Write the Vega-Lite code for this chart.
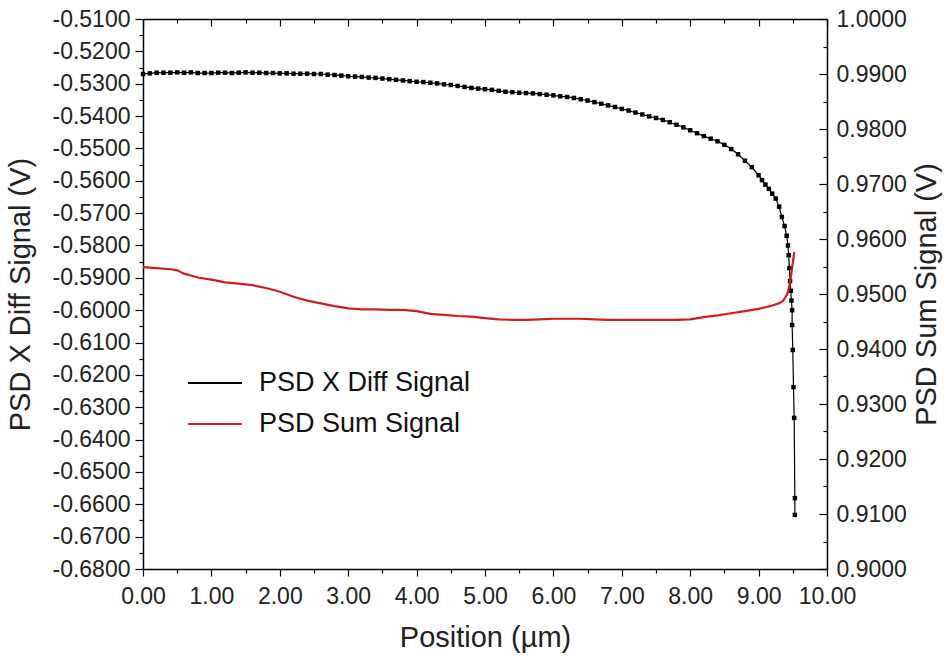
{
  "$schema": "https://vega.github.io/schema/vega-lite/v6.json",
  "width": 684,
  "height": 550,
  "autosize": {"type": "none"},
  "padding": {"left": 143, "top": 19, "right": 119, "bottom": 89},
  "background": "white",
  "config": {
    "view": {"stroke": null},
    "font": "Liberation Sans",
    "axis": {
      "grid": false,
      "domainColor": "#000",
      "domainWidth": 1.5,
      "tickColor": "#000",
      "tickWidth": 1.2,
      "labelColor": "#222",
      "titleColor": "#222",
      "labelFont": "Liberation Sans",
      "titleFont": "Liberation Sans",
      "titleFontWeight": "normal",
      "labelFontSize": 23,
      "titleFontSize": 29
    },
    "legend": {"labelFont": "Liberation Sans"}
  },
  "datasets": {
    "diff": [
      {"i": 0, "pos": 0.0, "v": -0.5270}, {"i": 1, "pos": 0.1, "v": -0.5268}, {"i": 2, "pos": 0.2, "v": -0.5266},
      {"i": 3, "pos": 0.3, "v": -0.5266}, {"i": 4, "pos": 0.4, "v": -0.5266}, {"i": 5, "pos": 0.5, "v": -0.5265},
      {"i": 6, "pos": 0.6, "v": -0.5266}, {"i": 7, "pos": 0.7, "v": -0.5265}, {"i": 8, "pos": 0.8, "v": -0.5267},
      {"i": 9, "pos": 0.9, "v": -0.5267}, {"i": 10, "pos": 1.0, "v": -0.5267}, {"i": 11, "pos": 1.1, "v": -0.5266},
      {"i": 12, "pos": 1.2, "v": -0.5266}, {"i": 13, "pos": 1.3, "v": -0.5267}, {"i": 14, "pos": 1.4, "v": -0.5266},
      {"i": 15, "pos": 1.5, "v": -0.5265}, {"i": 16, "pos": 1.6, "v": -0.5266}, {"i": 17, "pos": 1.7, "v": -0.5266},
      {"i": 18, "pos": 1.8, "v": -0.5267}, {"i": 19, "pos": 1.9, "v": -0.5267}, {"i": 20, "pos": 2.0, "v": -0.5268},
      {"i": 21, "pos": 2.1, "v": -0.5268}, {"i": 22, "pos": 2.2, "v": -0.5269}, {"i": 23, "pos": 2.3, "v": -0.5269},
      {"i": 24, "pos": 2.4, "v": -0.5269}, {"i": 25, "pos": 2.5, "v": -0.5270}, {"i": 26, "pos": 2.6, "v": -0.5270},
      {"i": 27, "pos": 2.7, "v": -0.5272}, {"i": 28, "pos": 2.8, "v": -0.5273}, {"i": 29, "pos": 2.9, "v": -0.5275},
      {"i": 30, "pos": 3.0, "v": -0.5277}, {"i": 31, "pos": 3.1, "v": -0.5278}, {"i": 32, "pos": 3.2, "v": -0.5279},
      {"i": 33, "pos": 3.3, "v": -0.5281}, {"i": 34, "pos": 3.4, "v": -0.5282}, {"i": 35, "pos": 3.5, "v": -0.5284},
      {"i": 36, "pos": 3.6, "v": -0.5286}, {"i": 37, "pos": 3.7, "v": -0.5288}, {"i": 38, "pos": 3.8, "v": -0.5290},
      {"i": 39, "pos": 3.9, "v": -0.5292}, {"i": 40, "pos": 4.0, "v": -0.5294}, {"i": 41, "pos": 4.1, "v": -0.5295},
      {"i": 42, "pos": 4.2, "v": -0.5297}, {"i": 43, "pos": 4.3, "v": -0.5299}, {"i": 44, "pos": 4.4, "v": -0.5302},
      {"i": 45, "pos": 4.5, "v": -0.5304}, {"i": 46, "pos": 4.6, "v": -0.5307}, {"i": 47, "pos": 4.7, "v": -0.5310},
      {"i": 48, "pos": 4.8, "v": -0.5313}, {"i": 49, "pos": 4.9, "v": -0.5315}, {"i": 50, "pos": 5.0, "v": -0.5317},
      {"i": 51, "pos": 5.1, "v": -0.5319}, {"i": 52, "pos": 5.2, "v": -0.5322}, {"i": 53, "pos": 5.3, "v": -0.5325},
      {"i": 54, "pos": 5.4, "v": -0.5326}, {"i": 55, "pos": 5.5, "v": -0.5328}, {"i": 56, "pos": 5.6, "v": -0.5329},
      {"i": 57, "pos": 5.7, "v": -0.5330}, {"i": 58, "pos": 5.8, "v": -0.5332}, {"i": 59, "pos": 5.9, "v": -0.5334},
      {"i": 60, "pos": 6.0, "v": -0.5336}, {"i": 61, "pos": 6.1, "v": -0.5339}, {"i": 62, "pos": 6.2, "v": -0.5341},
      {"i": 63, "pos": 6.3, "v": -0.5344}, {"i": 64, "pos": 6.4, "v": -0.5348}, {"i": 65, "pos": 6.5, "v": -0.5352},
      {"i": 66, "pos": 6.6, "v": -0.5357}, {"i": 67, "pos": 6.7, "v": -0.5362}, {"i": 68, "pos": 6.8, "v": -0.5367},
      {"i": 69, "pos": 6.9, "v": -0.5372}, {"i": 70, "pos": 7.0, "v": -0.5378}, {"i": 71, "pos": 7.1, "v": -0.5383},
      {"i": 72, "pos": 7.2, "v": -0.5389}, {"i": 73, "pos": 7.3, "v": -0.5395}, {"i": 74, "pos": 7.4, "v": -0.5401},
      {"i": 75, "pos": 7.5, "v": -0.5406}, {"i": 76, "pos": 7.6, "v": -0.5412}, {"i": 77, "pos": 7.7, "v": -0.5419},
      {"i": 78, "pos": 7.8, "v": -0.5427}, {"i": 79, "pos": 7.9, "v": -0.5435}, {"i": 80, "pos": 8.0, "v": -0.5444},
      {"i": 81, "pos": 8.1, "v": -0.5453}, {"i": 82, "pos": 8.2, "v": -0.5462}, {"i": 83, "pos": 8.3, "v": -0.5470},
      {"i": 84, "pos": 8.4, "v": -0.5478}, {"i": 85, "pos": 8.5, "v": -0.5489}, {"i": 86, "pos": 8.6, "v": -0.5502},
      {"i": 87, "pos": 8.7, "v": -0.5518}, {"i": 88, "pos": 8.8, "v": -0.5538}, {"i": 89, "pos": 8.9, "v": -0.5558},
      {"i": 90, "pos": 9.0, "v": -0.5583}, {"i": 91, "pos": 9.05, "v": -0.5598}, {"i": 92, "pos": 9.1, "v": -0.5612},
      {"i": 93, "pos": 9.15, "v": -0.5625}, {"i": 94, "pos": 9.2, "v": -0.5640}, {"i": 95, "pos": 9.25, "v": -0.5655},
      {"i": 96, "pos": 9.3, "v": -0.5680}, {"i": 97, "pos": 9.34, "v": -0.5712}, {"i": 98, "pos": 9.38, "v": -0.5740},
      {"i": 99, "pos": 9.41, "v": -0.5770}, {"i": 100, "pos": 9.43, "v": -0.5800}, {"i": 101, "pos": 9.44, "v": -0.5830},
      {"i": 102, "pos": 9.45, "v": -0.5870}, {"i": 103, "pos": 9.46, "v": -0.5910}, {"i": 104, "pos": 9.47, "v": -0.5940},
      {"i": 105, "pos": 9.48, "v": -0.5970}, {"i": 106, "pos": 9.49, "v": -0.6000}, {"i": 107, "pos": 9.49, "v": -0.6046},
      {"i": 108, "pos": 9.50, "v": -0.6123}, {"i": 109, "pos": 9.51, "v": -0.6238}, {"i": 110, "pos": 9.52, "v": -0.6333},
      {"i": 111, "pos": 9.53, "v": -0.6581}, {"i": 112, "pos": 9.53, "v": -0.6633}
    ],
    "sum": [
      {"i": 0, "pos": 0.0, "v": 0.9549}, {"i": 1, "pos": 0.2, "v": 0.9547}, {"i": 2, "pos": 0.4, "v": 0.9545},
      {"i": 3, "pos": 0.5, "v": 0.9543}, {"i": 4, "pos": 0.6, "v": 0.9537}, {"i": 5, "pos": 0.8, "v": 0.9530},
      {"i": 6, "pos": 1.0, "v": 0.9526}, {"i": 7, "pos": 1.2, "v": 0.9521}, {"i": 8, "pos": 1.4, "v": 0.9519},
      {"i": 9, "pos": 1.6, "v": 0.9516}, {"i": 10, "pos": 1.8, "v": 0.9511}, {"i": 11, "pos": 2.0, "v": 0.9504},
      {"i": 12, "pos": 2.2, "v": 0.9495}, {"i": 13, "pos": 2.4, "v": 0.9488}, {"i": 14, "pos": 2.6, "v": 0.9483},
      {"i": 15, "pos": 2.8, "v": 0.9478}, {"i": 16, "pos": 3.0, "v": 0.9474}, {"i": 17, "pos": 3.2, "v": 0.9472},
      {"i": 18, "pos": 3.4, "v": 0.9472}, {"i": 19, "pos": 3.6, "v": 0.9471}, {"i": 20, "pos": 3.8, "v": 0.9471},
      {"i": 21, "pos": 4.0, "v": 0.9469}, {"i": 22, "pos": 4.2, "v": 0.9464}, {"i": 23, "pos": 4.4, "v": 0.9462},
      {"i": 24, "pos": 4.6, "v": 0.9460}, {"i": 25, "pos": 4.8, "v": 0.9459}, {"i": 26, "pos": 5.0, "v": 0.9456},
      {"i": 27, "pos": 5.2, "v": 0.9454}, {"i": 28, "pos": 5.4, "v": 0.9453}, {"i": 29, "pos": 5.6, "v": 0.9453},
      {"i": 30, "pos": 5.8, "v": 0.9454}, {"i": 31, "pos": 6.0, "v": 0.9455}, {"i": 32, "pos": 6.2, "v": 0.9455},
      {"i": 33, "pos": 6.4, "v": 0.9455}, {"i": 34, "pos": 6.6, "v": 0.9454}, {"i": 35, "pos": 6.8, "v": 0.9453},
      {"i": 36, "pos": 7.0, "v": 0.9453}, {"i": 37, "pos": 7.2, "v": 0.9453}, {"i": 38, "pos": 7.4, "v": 0.9453},
      {"i": 39, "pos": 7.6, "v": 0.9453}, {"i": 40, "pos": 7.8, "v": 0.9453}, {"i": 41, "pos": 8.0, "v": 0.9454},
      {"i": 42, "pos": 8.2, "v": 0.9458}, {"i": 43, "pos": 8.4, "v": 0.9461}, {"i": 44, "pos": 8.6, "v": 0.9465},
      {"i": 45, "pos": 8.8, "v": 0.9469}, {"i": 46, "pos": 9.0, "v": 0.9473}, {"i": 47, "pos": 9.1, "v": 0.9476},
      {"i": 48, "pos": 9.2, "v": 0.9479}, {"i": 49, "pos": 9.3, "v": 0.9483}, {"i": 50, "pos": 9.36, "v": 0.9488},
      {"i": 51, "pos": 9.42, "v": 0.9500}, {"i": 52, "pos": 9.45, "v": 0.9515}, {"i": 53, "pos": 9.47, "v": 0.9530},
      {"i": 54, "pos": 9.49, "v": 0.9548}, {"i": 55, "pos": 9.51, "v": 0.9565}, {"i": 56, "pos": 9.52, "v": 0.9576}
    ]
  },
  "layer": [
    {
      "data": {"name": "diff"},
      "mark": {"type": "line", "strokeWidth": 1.2, "point": {"shape": "square", "size": 20, "filled": true}},
      "encoding": {
        "x": {
          "field": "pos", "type": "quantitative",
          "scale": {"domain": [0, 10], "nice": false, "zero": false},
          "axis": {
            "orient": "bottom", "title": "Position (µm)",
            "values": [0, 0.5, 1, 1.5, 2, 2.5, 3, 3.5, 4, 4.5, 5, 5.5, 6, 6.5, 7, 7.5, 8, 8.5, 9, 9.5, 10],
            "format": ".2f",
            "labelExpr": "round(datum.value*2) % 2 == 1 ? '' : datum.label",
            "tickSize": {"condition": {"test": "round(datum.value*2) % 2 == 1", "value": 4}, "value": 7},
            "labelPadding": 9, "titlePadding": 15, "labelFlush": false
          }
        },
        "y": {
          "field": "v", "type": "quantitative",
          "scale": {"domain": [-0.68, -0.51], "nice": false, "zero": false},
          "axis": {
            "orient": "left", "title": "PSD X Diff Signal (V)",
            "values": [-0.68, -0.675, -0.67, -0.665, -0.66, -0.655, -0.65, -0.645, -0.64, -0.635, -0.63, -0.625, -0.62, -0.615, -0.61, -0.605, -0.6, -0.595, -0.59, -0.585, -0.58, -0.575, -0.57, -0.565, -0.56, -0.555, -0.55, -0.545, -0.54, -0.535, -0.53, -0.525, -0.52, -0.515, -0.51],
            "format": ".4f",
            "labelExpr": "abs(round(datum.value*200)) % 2 == 1 ? '' : replace(datum.label, '\u2212', '-')",
            "tickSize": {"condition": {"test": "abs(round(datum.value*200)) % 2 == 1", "value": 4}, "value": 8},
            "labelPadding": 5, "titlePadding": 16, "labelFlush": false
          }
        },
        "order": {"field": "i"},
        "color": {
          "datum": "PSD X Diff Signal",
          "type": "nominal",
          "scale": {"domain": ["PSD X Diff Signal", "PSD Sum Signal"], "range": ["#000000", "#d41c1c"]},
          "legend": {
            "title": null, "orient": "none", "legendX": 44, "legendY": 336,
            "symbolType": "stroke", "symbolSize": 2900, "symbolStrokeWidth": 2,
            "labelFontSize": 27, "labelColor": "#111", "labelLimit": 400, "rowPadding": 0, "labelOffset": 16
          }
        }
      }
    },
    {
      "data": {"name": "sum"},
      "mark": {"type": "line", "strokeWidth": 2.2},
      "encoding": {
        "x": {
          "field": "pos", "type": "quantitative",
          "axis": {
            "orient": "top", "title": null, "labels": false,
            "values": [0, 0.5, 1, 1.5, 2, 2.5, 3, 3.5, 4, 4.5, 5, 5.5, 6, 6.5, 7, 7.5, 8, 8.5, 9, 9.5, 10],
            "tickSize": {"condition": {"test": "round(datum.value*2) % 2 == 1", "value": -4}, "value": -7}
          }
        },
        "y": {
          "field": "v", "type": "quantitative",
          "scale": {"domain": [0.9, 1.0], "nice": false, "zero": false},
          "axis": {
            "orient": "right", "title": "PSD Sum Signal (V)", "titleAngle": 270, "titleBaseline": "top",
            "values": [0.9, 0.905, 0.91, 0.915, 0.92, 0.925, 0.93, 0.935, 0.94, 0.945, 0.95, 0.955, 0.96, 0.965, 0.97, 0.975, 0.98, 0.985, 0.99, 0.995, 1.0],
            "format": ".4f",
            "labelExpr": "round(datum.value*200) % 2 == 1 ? '' : datum.label",
            "tickSize": {"condition": {"test": "round(datum.value*200) % 2 == 1", "value": -4}, "value": -8},
            "labelPadding": 17, "titlePadding": 6, "labelFlush": false
          }
        },
        "order": {"field": "i"},
        "color": {"datum": "PSD Sum Signal", "type": "nominal"}
      }
    }
  ],
  "resolve": {"scale": {"y": "independent"}, "axis": {"x": "independent"}}
}
